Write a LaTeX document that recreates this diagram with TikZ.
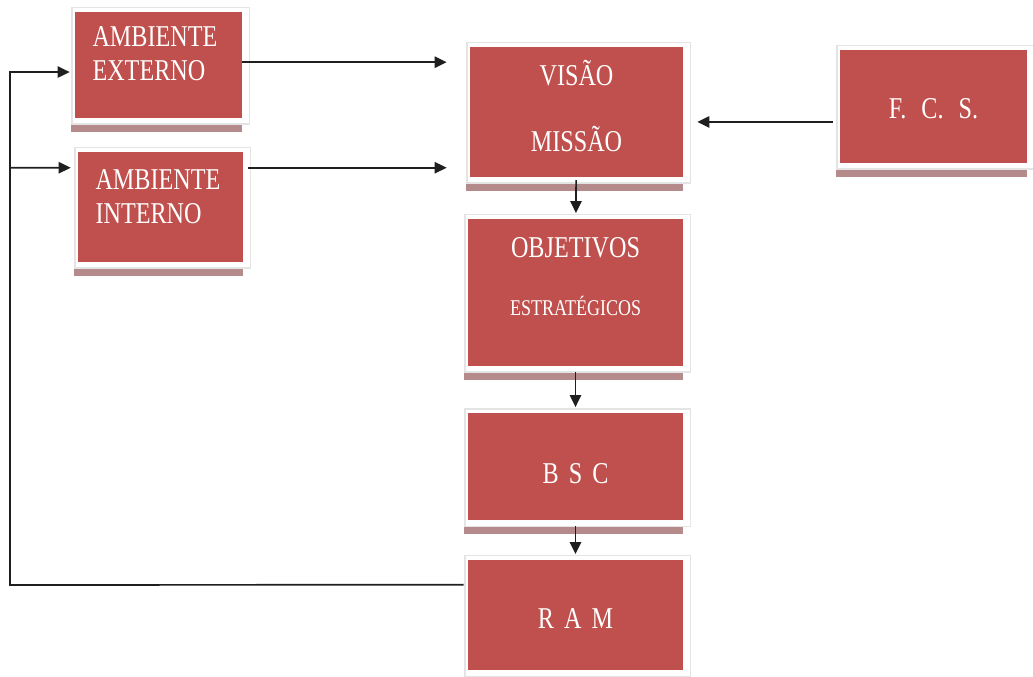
\documentclass[tikz,border=0pt]{standalone}
\usepackage{fontspec}
\setmainfont{Liberation Serif}[FakeStretch=0.8]
\usetikzlibrary{arrows.meta,positioning,calc}

\definecolor{blkred}{HTML}{C0504D}
\definecolor{blkshadow}{HTML}{B48A8A}
\definecolor{blkedge}{HTML}{E4E4E4}

\begin{document}
\begin{tikzpicture}[x=0.7113pt,y=-0.7113pt,>={Triangle[length=8.5pt,width=8pt]}]
  \tikzset{
    blk/.style={rectangle,fill=blkred,text=white,inner sep=0pt,
      font=\fontsize{21.5}{23.5}\selectfont,
      preaction={fill=blkshadow,draw=blkshadow,line width=2.8pt,transform canvas={shift={(-2,12)}}},
      preaction={draw=blkedge,line width=8pt,transform canvas={shift={(2,1)}}},
      preaction={fill=white,draw=white,line width=6.4pt,transform canvas={shift={(2,1)}}}},
    blksize/.style 2 args={minimum width=#1*0.7113pt,minimum height=#2*0.7113pt,
      text width=#1*0.7113pt-35*0.7113pt},
    link/.style={->,draw=black!88,line width=1.2pt}
  }
  \useasboundingbox (0,0) rectangle (1033,677);

  % left column
  \node[blk,blksize={167}{106},align=left,text height=24.9pt,text depth=50.5pt] (ext) at (158.5,65) {AMBIENTE\\EXTERNO};
  \node[blk,blksize={165}{110},align=left,text height=27pt,text depth=51.2pt] (int) at (160.5,207) {AMBIENTE\\INTERNO};

  % centre column
  \node[blk,blksize={213}{130},align=center,text height=27pt,text depth=65.4pt] (vis) at (576.5,112) {VISÃO\\[24pt]MISSÃO};
  \node[blk,blksize={215}{147},align=center,text height=27pt,text depth=77.5pt] (obj) at (575.5,292.5) {OBJETIVOS\\[18pt]{\fontsize{16}{17}\selectfont ESTRATÉGICOS}};
  \node[blk,blksize={215}{107},align=center,text height=49.8pt,text depth=26.3pt] (bsc) at (575.5,466.5) {B S C};
  \node[blk,blksize={215}{110},align=center,text height=48.4pt,text depth=29.9pt] (ram) at (575.5,615) {R A M};

  % right
  \node[blk,blksize={187}{113},align=center,text height=49pt,text depth=31.3pt] (fcs) at (933.5,106.5) {F.\ \,C.\ \,S.};

  % connections
  \draw[link,shorten >=16.4pt] ([yshift=2pt]ext.east) -- ([yshift=2pt]ext.east -| vis.west);
  \draw[link,shorten <=3pt,shorten >=16.4pt] ([yshift=-11.4pt]int.north east) -- ([yshift=-11.4pt]int.north east -| vis.west);
  \draw[link,shorten <=5pt,shorten >=10pt] ([yshift=-11pt]fcs.west) -- ([yshift=-11pt]fcs.west -| vis.east);
  \draw[link,shorten <=2pt,shorten >=4pt] (vis) -- (obj);
  \draw[link,shorten <=4pt,shorten >=4pt] (obj) -- (bsc);
  \draw[link,shorten <=4pt,shorten >=4pt] (bsc) -- (ram);

  % feedback loop
  \coordinate (fb) at (10,585);
  \draw[link,shorten <=3pt,shorten >=3.6pt] ([yshift=-17.8pt]ram.north west) -- (fb) |- ([yshift=-5pt]ext.west);
  \draw[link,shorten >=5pt] (fb |- int.north west) ++(0,16) -- ([yshift=-11.4pt]int.north west);
\end{tikzpicture}
\end{document}
